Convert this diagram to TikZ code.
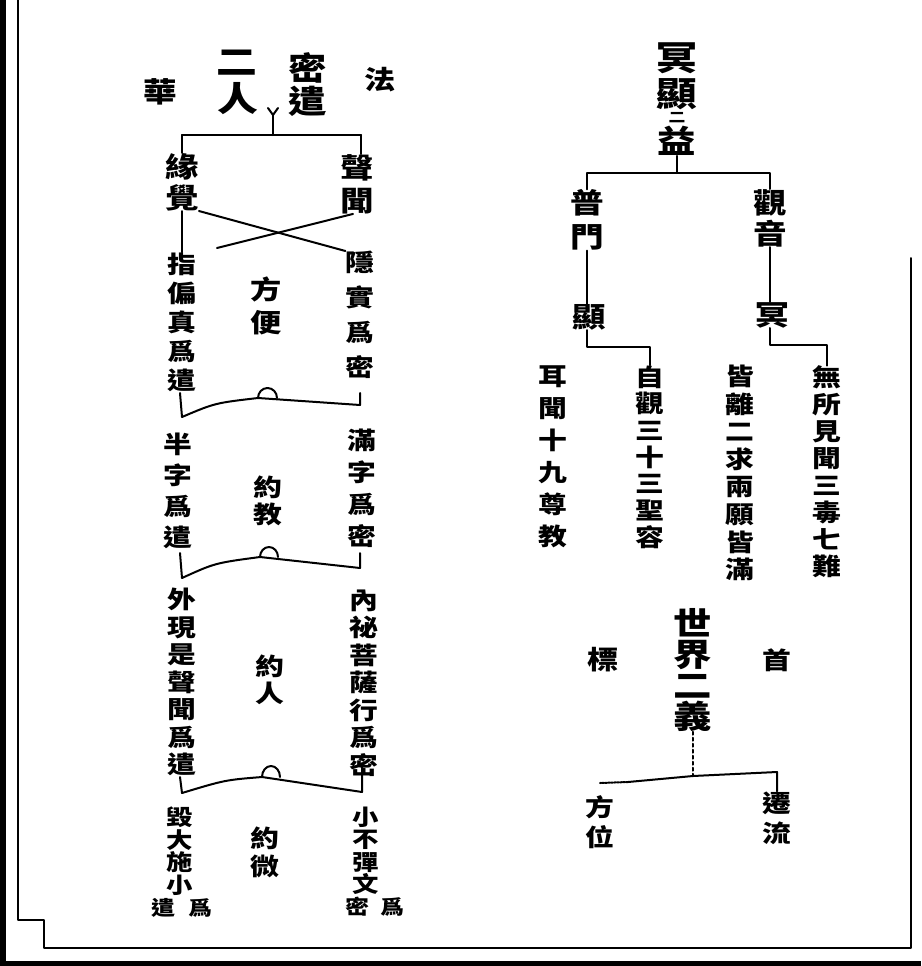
\documentclass[tikz,border=0pt]{standalone}
\usepackage{fontspec}
\newfontfamily\cjk{Noto Sans CJK TC}[FakeStretch=1.2]
\newcommand\zi[2]{\cjk\bfseries\fontsize{#1}{#2}\selectfont}

\begin{document}
\begin{tikzpicture}[x=1pt,y=-1pt,
    col/.style 2 args={inner sep=0pt, align=center, font=\zi{#1}{#2}},
    ink/.style={line width=2pt, line cap=round, line join=round}]
    \useasboundingbox (0,0) rectangle (921,966);

    % frame
    \fill (0,0) rectangle (6,966);
    \fill (0,961) rectangle (921,966);
    \draw[ink] (18,0) -- (18,920) -- (44,920) -- (44,948) -- (911,948) -- (911,258);

    % left table: title
    \node[col={28}{30}] (hua) at (160,92) {華};
    \node[col={34}{34}] (er1) at (237,63) {二};
    \node[col={34}{34}] (ren) at (238,99) {人};
    \node[col={32}{33}] (mijian) at (308,85) {密\\遣};
    \node[col={26}{28}] (fa) at (380,80) {法};
    \coordinate (fork) at (273,115);
    \coordinate (barL) at (182,135);
    \coordinate (barR) at (361,135);
    \draw[ink] (268,108) -- (fork) -- (278,108);
    \draw[ink] (fork) -- (fork |- barL);
    \draw[ink] (barL) -- (barR);

    \node[col={28}{31}] (yuanjue) at (182,182) {緣\\覺};
    \node[col={28}{33}] (shengwen) at (357,184) {聲\\聞};
    \draw[ink] (barL) -- (yuanjue.north);
    \draw[ink] (barR) -- (barR |- shengwen.north);

    % first band
    \node[col={24}{29}] (zhipian) at (182,322) {指\\偏\\真\\爲\\遣};
    \node[col={24}{35}] (yinshi) at (360,315) {隱\\實\\爲\\密};
    \node[col={26}{33}] (fangbian) at (266,306) {方\\便};
    \coordinate (crossend) at (217,248);
    \draw[ink] (yuanjue.south) -- (zhipian.north);
    \draw[ink] (yuanjue.south east) -- (yinshi.north west);
    \draw[ink] ([xshift=-4pt]shengwen.south) -- (crossend);
    \draw[ink] (180,393) -- (182,417) .. controls (215,403) .. (258,398) -- (360,405) -- (360,393);
    \draw[ink] (258,398) arc[start angle=180, end angle=0, x radius=9.5pt, y radius=10pt];

    % second band
    \node[col={24}{31}] (banzi) at (178,491) {半\\字\\爲\\遣};
    \node[col={24}{32}] (manzi) at (362,488) {滿\\字\\爲\\密};
    \node[col={24}{27}] (yuejiao) at (268,501) {約\\教};
    \draw[ink] (180,553) -- (182,578) .. controls (215,563) .. (260,557) -- (360,568) -- (360,553);
    \draw[ink] (260,557) arc[start angle=180, end angle=0, x radius=9pt, y radius=10pt];

    % third band
    \node[col={24}{27.5}] (waixian) at (182,682) {外\\現\\是\\聲\\聞\\爲\\遣};
    \node[col={24}{27.5}] (neimi) at (364,683) {內\\祕\\菩\\薩\\行\\爲\\密};
    \node[col={24}{27}] (yueren) at (270,680) {約\\人};
    \draw[ink] (180,777) -- (182,793) .. controls (225,780) .. (262,777) -- (362,792) -- (362,763);
    \draw[ink] (262,777) arc[start angle=180, end angle=0, x radius=9pt, y radius=11pt];

    % fourth band
    \node[col={22}{22.5}] (huida) at (180,851) {毀\\大\\施\\小};
    \node[col={22}{22.5}] (xiaobu) at (366,851) {小\\不\\彈\\文};
    \node[col={24}{28}] (yuewei) at (265,852) {約\\微};
    \node[col={20}{22}] (jianL) at (163,908) {遣};
    \node[col={20}{22}] (weiL) at (200,908) {爲};
    \node[col={20}{22}] (miR) at (357,907) {密};
    \node[col={20}{22}] (weiR) at (392,907) {爲};

    % right table
    \node[col={34}{36}] (mingxian) at (677,76) {冥\\顯};
    \node[col={14}{14}] (er) at (677,118) {二};
    \node[col={32}{32}] (yi) at (677,141) {益};
    \coordinate (tbar) at (677,173);
    \draw[ink] (yi.south) -- (tbar);

    \node[col={28}{34}] (pumen) at (587,220) {普\\門};
    \node[col={28}{31}] (guanyin) at (770,218) {觀\\音};
    \draw[ink] (pumen.north) -- (pumen.north |- tbar) -- (guanyin.north |- tbar) -- (guanyin.north);

    \node[col={28}{30}] (xian) at (589,317) {顯};
    \node[col={28}{30}] (ming) at (772,315) {冥};
    \draw[ink] (pumen.south) -- (pumen.south |- xian.north);
    \draw[ink] (guanyin.south) -- (guanyin.south |- ming.north);

    \node[col={24}{26.7}] (ziguan) at (650,457) {自\\觀\\三\\十\\三\\聖\\容};
    \node[col={24}{32}] (erwen) at (553,457) {耳\\聞\\十\\九\\尊\\教};
    \node[col={24}{27.6}] (jieli) at (740,473) {皆\\離\\二\\求\\兩\\願\\皆\\滿};
    \node[col={24}{27}] (wusuo) at (827,472) {無\\所\\見\\聞\\三\\毒\\七\\難};
    \draw[ink] (xian.south -| pumen.south) -- ++(0,17) -| (ziguan.north);
    \draw[ink] (ming.south -| guanyin.south) -- ++(0,17) -| (wusuo.north);

    \node[col={32}{31}] (shijie) at (693,670) {世\\界\\二\\義};
    \node[col={26}{28}] (biao) at (603,660) {標};
    \node[col={24}{28}] (shou) at (777,660) {首};
    \node[col={24}{30}] (fangwei) at (600,822) {方\\位};
    \node[col={24}{30}] (qianliu) at (777,818) {遷\\流};
    \coordinate (sj) at (693,776);
    \draw[ink, dashed] (shijie.south) -- (sj);
    \draw[ink] (sj) -- (628,782);
    \draw[ink, densely dotted] (628,782) -- (fangwei.north |- 0,783);
    \draw[ink] (sj) -- (qianliu.north |- 0,772) -- (qianliu.north);
\end{tikzpicture}
\end{document}
